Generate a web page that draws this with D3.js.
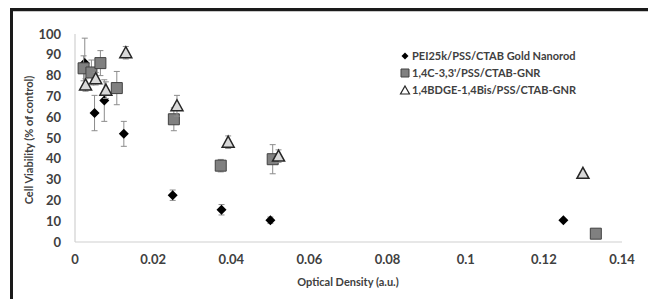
<!DOCTYPE html>
<html>
<head>
<meta charset="utf-8">
<script src="https://cdn.jsdelivr.net/npm/d3@7"></script>
<style>
  body { margin: 0; background: #fff; }
  text { font-family: Lato, "Open Sans", sans-serif; font-weight: bold; fill: #404040; }
</style>
</head>
<body>
<div id="chart"></div>
<script>
// Series data: [optical density, viability %, error]
const seriesNames = ["PEI25k/PSS/CTAB Gold Nanorod", "1,4C-3,3'/PSS/CTAB-GNR", "1,4BDGE-1,4Bis/PSS/CTAB-GNR"];
const pei = [
  [0.0025, 86, 12], [0.005, 62, 8.5], [0.0075, 68, 10], [0.0125, 52, 6],
  [0.025, 22.5, 2.5], [0.0375, 15.5, 2.5], [0.05, 10.5, 1.5], [0.125, 10.5, 0]
];
const c43 = [
  [0.0022, 83.5, 6], [0.0042, 81.5, 6], [0.0065, 86, 6], [0.0107, 74, 8],
  [0.0253, 59, 5.5], [0.0373, 36.7, 3], [0.0506, 39.8, 7], [0.1333, 4, 0]
];
const bdge = [
  [0.0027, 75.5, 3], [0.0053, 78.5, 3], [0.0079, 73, 4], [0.013, 91, 3],
  [0.0261, 65.5, 5], [0.0392, 48, 3], [0.0521, 41.3, 3], [0.130, 33, 0]
];
const xTicks = [0, 0.02, 0.04, 0.06, 0.08, 0.1, 0.12, 0.14];
const yTicks = [0, 10, 20, 30, 40, 50, 60, 70, 80, 90, 100];

const width = 648, height = 299;
const svg = d3.select("#chart").append("svg")
  .attr("width", width).attr("height", height);

// frame
svg.append("rect").attr("x", 10).attr("y", 8).attr("width", width - 10).attr("height", 3).attr("fill", "#1a1a1a");
svg.append("line").attr("x1", 13).attr("x2", width).attr("y1", 11.5).attr("y2", 11.5).attr("stroke", "#c8c8c8");
svg.append("rect").attr("x", 10).attr("y", 8).attr("width", 3).attr("height", height - 8).attr("fill", "#1a1a1a");

const x = d3.scaleLinear().domain([0, 0.14]).range([75, 622]);
const y = d3.scaleLinear().domain([0, 100]).range([242, 34]);

// axis lines
svg.append("line").attr("x1", x(0)).attr("x2", x(0.14)).attr("y1", y(0)).attr("y2", y(0))
  .attr("stroke", "#d0d0d0").attr("stroke-width", 1.2);
svg.append("line").attr("x1", x(0)).attr("x2", x(0)).attr("y1", y(0)).attr("y2", y(100))
  .attr("stroke", "#d0d0d0").attr("stroke-width", 1.2);

// tick labels
svg.selectAll(".ytick").data(yTicks).enter().append("text")
  .attr("x", 61).attr("y", d => y(d)).attr("dy", "0.35em")
  .attr("text-anchor", "end").style("font-size", "13px")
  .text(d => d);
svg.selectAll(".xtick").data(xTicks).enter().append("text")
  .attr("x", d => x(d)).attr("y", 264)
  .attr("text-anchor", "middle").style("font-size", "13px")
  .text(d => d);

// axis titles
svg.append("text").attr("transform", "translate(33,140) rotate(-90)")
  .attr("text-anchor", "middle").style("font-size", "11px")
  .text("Cell Viability (% of control)");
svg.append("text").attr("x", 348).attr("y", 286)
  .attr("text-anchor", "middle").style("font-size", "11px")
  .text("Optical Density (a.u.)");

// error bars
function errorBars(data) {
  const g = svg.append("g").attr("stroke", "#8c8c8c").attr("stroke-width", 1);
  data.filter(d => d[2] > 0).forEach(d => {
    const cx = x(d[0]);
    g.append("line").attr("x1", cx).attr("x2", cx).attr("y1", y(d[1] - d[2])).attr("y2", y(d[1] + d[2]));
    g.append("line").attr("x1", cx - 3).attr("x2", cx + 3).attr("y1", y(d[1] + d[2])).attr("y2", y(d[1] + d[2]));
    g.append("line").attr("x1", cx - 3).attr("x2", cx + 3).attr("y1", y(d[1] - d[2])).attr("y2", y(d[1] - d[2]));
  });
}

const diamond = "M0,-5L5,0L0,5L-5,0Z";
const square = "M-5.5,-5.5H5.5V5.5H-5.5Z";
const triangle = "M0,-6L6,5L-6,5Z";

function markers(data, path, fill, stroke, sw) {
  svg.append("g").selectAll("path").data(data).enter().append("path")
    .attr("d", path)
    .attr("transform", d => `translate(${x(d[0])},${y(d[1])})`)
    .attr("fill", fill).attr("stroke", stroke).attr("stroke-width", sw);
}

errorBars(pei);
markers(pei, diamond, "#000", "none", 0);
errorBars(c43);
markers(c43, square, "#808080", "#404040", 1);
errorBars(bdge);
markers(bdge, triangle, "#d9d9d9", "#262626", 1.5);

// legend
const legend = [
  { name: seriesNames[0], path: "M0,-3.5L3.5,0L0,3.5L-3.5,0Z", fill: "#000", stroke: "none", sw: 0 },
  { name: seriesNames[1], path: "M-4,-4H4V4H-4Z", fill: "#808080", stroke: "#404040", sw: 1 },
  { name: seriesNames[2], path: "M0,-4L4.5,4L-4.5,4Z", fill: "#fff", stroke: "#262626", sw: 1.2 }
];
const lg = svg.append("g").attr("transform", "translate(405,56)");
legend.forEach((d, i) => {
  const row = lg.append("g").attr("transform", `translate(0,${i * 17})`);
  row.append("path").attr("d", d.path).attr("fill", d.fill).attr("stroke", d.stroke).attr("stroke-width", d.sw);
  row.append("text").attr("x", 7).attr("dy", "0.35em").style("font-size", "11px").text(d.name);
});
</script>
</body>
</html>
